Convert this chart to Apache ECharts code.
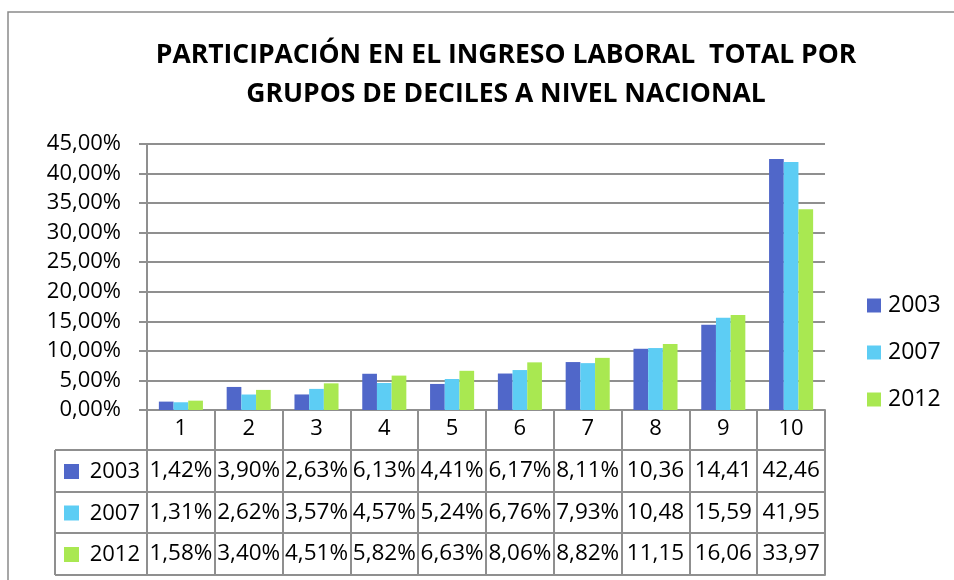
<!DOCTYPE html>
<html>
<head>
<meta charset="utf-8">
<script src="https://cdn.jsdelivr.net/npm/echarts@6/dist/echarts.min.js"></script>
<style>
  html, body { margin: 0; padding: 0; background: #fff; }
  #chart { width: 954px; height: 580px; }
</style>
</head>
<body>
<div id="chart"></div>
<script>
// datos (porcentaje del ingreso laboral por decil)
var deciles = ['1', '2', '3', '4', '5', '6', '7', '8', '9', '10'];
var anios = ['2003', '2007', '2012'];
var v2003 = [1.42, 3.90, 2.63, 6.13, 4.41, 6.17, 8.11, 10.36, 14.41, 42.46];
var v2007 = [1.31, 2.62, 3.57, 4.57, 5.24, 6.76, 7.93, 10.48, 15.59, 41.95];
var v2012 = [1.58, 3.40, 4.51, 5.82, 6.63, 8.06, 8.82, 11.15, 16.06, 33.97];
var yTicks = [0, 5, 10, 15, 20, 25, 30, 35, 40, 45];

var colores = ['#5067c9', '#5dcdf4', '#a9e851'];
var FONT = '"Open Sans"';
var lineColor = '#8f8f8f';

var chart = echarts.init(document.getElementById('chart'));

// geometria del area de trazado
var gLeft = 147, gRight = 825, gTop = 144, gBottom = 410;
var rowOff = [40, 82, 123, 165]; // lineas de la tabla debajo del eje

function fmtTabla(v) {
    // en la tabla de Excel los valores >= 10 aparecen cortados sin %
    var s = v.toFixed(2).replace('.', ',');
    return v < 10 ? s + '%' : s;
}

function filaEje(idx, datos) {
    return {
        type: 'category',
        gridIndex: 0,
        position: 'bottom',
        offset: rowOff[idx],
        data: deciles,
        boundaryGap: true,
        axisLine: { show: true, lineStyle: { color: lineColor, width: 2 } },
        axisTick: { show: false },
        axisLabel: {
            show: !!datos,
            interval: 0,
            margin: 9,
            color: '#000',
            fontFamily: FONT,
            fontSize: 22.5,
            formatter: function (val, i) { return datos ? fmtTabla(datos[i]) : ''; }
        }
    };
}

var series = [v2003, v2007, v2012].map(function (d, i) {
    return {
        name: anios[i],
        type: 'bar',
        xAxisIndex: 0,
        data: d,
        barGap: '0%',
        barCategoryGap: '35%',
        itemStyle: { color: colores[i] }
    };
});

// columna izquierda de la tabla (leyenda de filas)
var graficos = [{
    type: 'rect',
    shape: { x: 8, y: 12, width: 1000, height: 1000 },
    style: { fill: 'none', stroke: '#8a8a8a', lineWidth: 1.5 },
    silent: true
}];
var colX = 55;
graficos.push({
    type: 'line',
    shape: { x1: colX, y1: gBottom + rowOff[0], x2: colX, y2: gBottom + rowOff[3] },
    style: { stroke: lineColor, lineWidth: 2 }
});
for (var r = 0; r < 4; r++) {
    graficos.push({
        type: 'line',
        shape: { x1: colX, y1: gBottom + rowOff[r], x2: gLeft, y2: gBottom + rowOff[r] },
        style: { stroke: lineColor, lineWidth: 2 }
    });
}
for (var k = 0; k < 3; k++) {
    var yc = gBottom + (rowOff[k] + rowOff[k + 1]) / 2;
    graficos.push({
        type: 'rect',
        shape: { x: 64, y: yc - 7, width: 15, height: 15 },
        style: { fill: colores[k] }
    });
    graficos.push({
        type: 'text',
        x: 140, y: yc + 1,
        style: {
            text: anios[k], fill: '#000', font: '22px ' + FONT,
            align: 'right', verticalAlign: 'middle'
        }
    });
}

var option = {
    animation: false,
    backgroundColor: '#fff',
    title: {
        text: 'PARTICIPACIÓN EN EL INGRESO LABORAL  TOTAL POR\nGRUPOS DE DECILES A NIVEL NACIONAL',
        left: 501,
        top: 31,
        textAlign: 'center',
        textStyle: {
            fontFamily: FONT,
            fontWeight: 'bold',
            fontSize: 26.5,
            lineHeight: 39,
            color: '#000'
        }
    },
    legend: {
        orient: 'vertical',
        left: 862,
        top: 289,
        itemWidth: 14,
        itemHeight: 14,
        itemGap: 24,
        icon: 'rect',
        data: anios,
        textStyle: { fontFamily: FONT, fontSize: 23, color: '#000', padding: [0, 0, 0, 2] }
    },
    grid: {
        left: gLeft,
        right: 954 - gRight,
        top: gTop,
        bottom: 580 - gBottom,
        containLabel: false
    },
    xAxis: [
        {
            type: 'category',
            gridIndex: 0,
            position: 'bottom',
            data: deciles,
            boundaryGap: true,
            axisLine: { show: true, lineStyle: { color: lineColor, width: 2 } },
            axisTick: {
                show: true,
                interval: 0,
                length: rowOff[3],
                lineStyle: { color: lineColor, width: 2 }
            },
            axisLabel: {
                interval: 0,
                margin: 8,
                color: '#000',
                fontFamily: FONT,
                fontSize: 22
            }
        },
        filaEje(0, v2003),
        filaEje(1, v2007),
        filaEje(2, v2012),
        filaEje(3, null)
    ],
    yAxis: {
        type: 'value',
        min: yTicks[0],
        max: yTicks[yTicks.length - 1],
        interval: yTicks[1] - yTicks[0],
        axisLine: { show: true, lineStyle: { color: lineColor, width: 2 } },
        axisTick: { show: true, length: 8, lineStyle: { color: lineColor, width: 2 } },
        splitLine: { show: true, lineStyle: { color: lineColor, width: 2 } },
        axisLabel: {
            margin: 26,
            color: '#000',
            fontFamily: FONT,
            fontSize: 22,
            formatter: function (v) { return v.toFixed(2).replace('.', ',') + '%'; }
        }
    },
    series: series,
    graphic: graficos
};

chart.setOption(option);
</script>
</body>
</html>
